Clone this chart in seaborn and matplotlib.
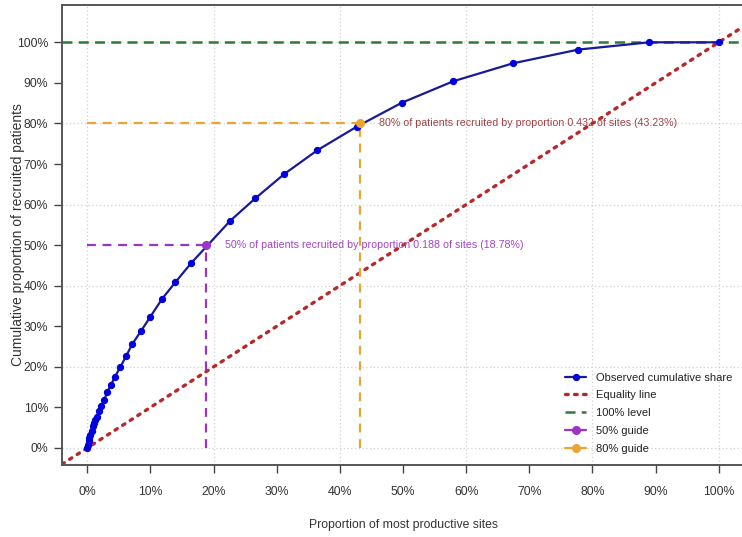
import numpy as np
import pandas as pd
import matplotlib
matplotlib.use("Agg")
import matplotlib.pyplot as plt
import seaborn as sns
from matplotlib.ticker import FixedLocator

# ---------------------- DATA ----------------------
site_prop = [0.0, 0.001, 0.002, 0.003, 0.005, 0.007, 0.009, 0.011, 0.013, 0.0153,
             0.0185, 0.0222, 0.0269, 0.0312, 0.0375, 0.0432, 0.0522, 0.0617, 0.0712,
             0.085, 0.0997, 0.1182, 0.1392, 0.1641, 0.2263, 0.2658, 0.3117, 0.3644,
             0.4267, 0.498, 0.5796, 0.6736, 0.7774, 0.8897, 1.0]
cum_share = [0.0, 0.008, 0.016, 0.024, 0.033, 0.043, 0.053, 0.062, 0.07, 0.077,
             0.091, 0.103, 0.118, 0.137, 0.155, 0.174, 0.199, 0.227, 0.256,
             0.288, 0.323, 0.367, 0.408, 0.455, 0.56, 0.615, 0.675, 0.734,
             0.792, 0.851, 0.904, 0.948, 0.982, 1.0, 1.0]

guide_levels = [0.5, 0.8]
guide_props = [0.1878, 0.4323]
guide_texts = ["50% of patients recruited by proportion 0.188 of sites (18.78%)",
               "80% of patients recruited by proportion 0.432 of sites (43.23%)"]

tick_vals = [i / 10 for i in range(11)]
tick_labels = [f"{i * 10}%" for i in range(11)]

df = pd.DataFrame({"prop": site_prop, "share": cum_share})

# ---------------------- STYLE ----------------------
sns.set_theme(style="white")
fonts = ["Liberation Sans", "DejaVu Sans"]
plt.rcParams["font.family"] = fonts

fig = plt.figure(figsize=(7.42, 5.37), dpi=100)
ax = fig.add_axes([0.0836, 0.1341, 0.9191, 0.8566])

purple = "#9b35c8"
orange = "#eaa431"
green = "#2f7a35"
red = "#b8282a"

# grid every 0.2
for g in np.arange(0, 1.01, 0.2):
    ax.axvline(g, color="#d0d0d0", lw=0.9, ls=(0, (1, 2)), zorder=0)
    ax.axhline(g, color="#d0d0d0", lw=0.9, ls=(0, (1, 2)), zorder=0)

# reference lines
ax.axhline(1.0, color=green, lw=1.8, ls=(0, (4, 2.5)), zorder=2, label="100% level")
ax.axline((0, 0), (1, 1), color=red, lw=2.4, ls=(0, (0.8, 1.9)),
          dash_capstyle="round", zorder=2, label="Equality line")

# observed curve
sns.lineplot(data=df, x="prop", y="share", ax=ax, color="#1a1a96", lw=1.6,
             marker="o", markersize=4.5, markerfacecolor="#0000dd",
             markeredgecolor="#0000dd", zorder=4, label="Observed cumulative share")

# guides
gcolors = [purple, orange]
tcolors = ["#a044c4", "#a0424a"]
for lvl, p, txt, c, tc, name in zip(guide_levels, guide_props, guide_texts,
                                    gcolors, tcolors, ["50% guide", "80% guide"]):
    ax.plot([0, p], [lvl, lvl], color=c, lw=1.6, ls=(0, (4, 3)), zorder=3)
    ax.plot([p, p], [0, lvl], color=c, lw=1.6, ls=(0, (4, 3)), zorder=3)
    ax.plot([p], [lvl], marker="o", color=c, ms=5.5, ls="-", lw=1.6, zorder=5, label=name)
    ax.text(p + 0.03, lvl, txt, color=tc, fontsize=7.7, va="center", ha="left")

ax.set_xlim(-0.04, 1.04)
ax.set_ylim(-0.042, 1.092)

ax.xaxis.set_major_locator(FixedLocator(tick_vals))
ax.yaxis.set_major_locator(FixedLocator(tick_vals))
ax.set_xticklabels(tick_labels)
ax.set_yticklabels(tick_labels)
ax.tick_params(axis="both", which="major", direction="out", length=6, width=1,
               color="#444444", labelsize=8.8, labelcolor="#333333", left=True, bottom=True)
ax.tick_params(axis="x", pad=9)
ax.tick_params(axis="y", pad=4)

for s in ax.spines.values():
    s.set_color("#555555")
    s.set_linewidth(1.4)

ax.set_xlabel("Proportion of most productive sites", fontsize=8.8, color="#333333")
ax.set_ylabel("Cumulative proportion of recruited patients", fontsize=10,
              color="#333333")
ax.xaxis.set_label_coords(0.5, -0.118)
ax.yaxis.set_label_coords(-0.055, 0.5)

handles, labels = ax.get_legend_handles_labels()
order = ["Observed cumulative share", "Equality line", "100% level", "50% guide", "80% guide"]
hmap = dict(zip(labels, handles))
leg = ax.legend([hmap[k] for k in order], order, loc="lower right",
                bbox_to_anchor=(1.0, 0.0), frameon=False, fontsize=8.0,
                handlelength=1.9, handletextpad=0.9, labelspacing=0.7,
                borderaxespad=0.62)
for t in leg.get_texts():
    t.set_color("#222222")

fig.savefig("out.png", dpi=100)
